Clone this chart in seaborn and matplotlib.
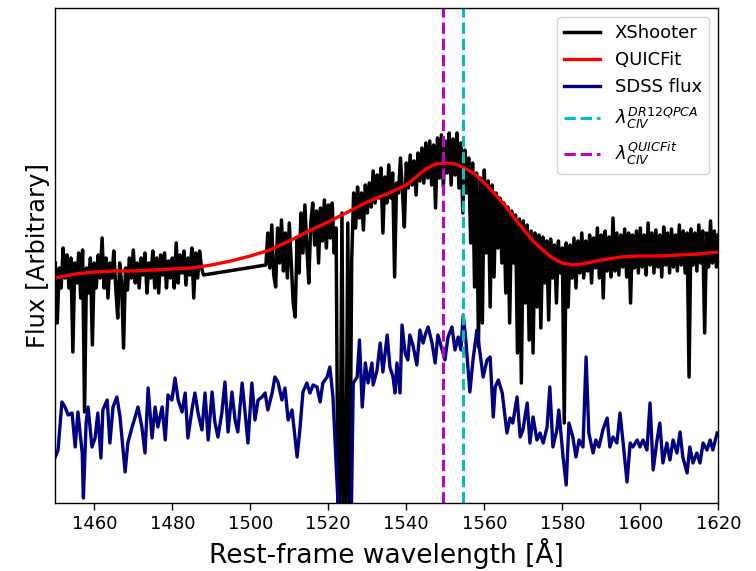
import numpy as np
import pandas as pd
import matplotlib
matplotlib.use("Agg")
import matplotlib.pyplot as plt
import seaborn as sns

# ---------------- data (arbitrary flux units) ----------------
# XShooter spectrum, two segments on a 0.5 A pixel grid
xs_seg1_start = 1450.0
xs_seg1_flux = [
    240, 180, 235, 215, 255, 225, 248, 215, 245, 151,
    240, 220, 250, 205, 253, 91, 235, 210, 245, 158,
    240, 215, 248, 225, 265, 215, 245, 205, 240, 225,
    252, 215, 185, 240, 220, 155, 235, 213, 245, 225,
    253, 220, 240, 215, 245, 228, 250, 210, 240, 225,
    252, 215, 245, 210, 248, 228, 250, 215, 242, 225,
    245, 215, 260, 220, 248, 230, 252, 218, 245, 228,
    255, 205, 250, 225, 252, 235, 228,
]
xs_seg2_start = 1504.0
xs_seg2_flux = [
    238, 270, 235, 278, 228, 216, 275, 240, 283, 232,
    270, 225, 280, 240, 200, 186, 265, 230, 290, 250,
    298, 255, 220, 280, 300, 258, 292, 240, 295, 262,
    303, 255, 298, 265, 300, 250, 275, -20, -20, 290,
    -20, -20, 280, -20, 243, 310, 275, 316, 285, 310,
    273, 318, 290, 320, 296, 332, 300, 328, 305, 335,
    270, 326, 300, 338, 305, 330, 226, 320, 310, 345,
    312, 276, 340, 315, 348, 318, 342, 308, 350, 322,
    355, 320, 360, 325, 362, 318, 358, 295, 365, 325,
    368, 316, 362, 330, 370, 318, 364, 328, 370, 315,
    360, 290, 353, 310, 345, 260, 340, 216, 330, 156,
    325, 180, 333, 250, 322, 196, 318, 226, 310, 255,
    305, 240, 300, 210, 296, 180, 292, 240, 288, 150,
    284, 120, 282, 200, 278, 163, 272, 150, 270, 196,
    268, 175, 266, 220, 262, 183, 264, 225, 258, 200,
    262, 230, 255, 80, 260, 196, 258, 225, 265, 215,
    262, 230, 270, 225, 262, 232, 268, 220, 265, 235,
    275, 225, 268, 205, 272, 232, 266, 226, 285, 232,
    270, 228, 268, 236, 274, 226, 270, 200, 268, 235,
    272, 230, 275, 236, 268, 228, 280, 238, 270, 230,
    273, 236, 268, 226, 276, 238, 270, 230, 274, 236,
    268, 232, 278, 238, 272, 230, 270, 126, 274, 238,
    270, 232, 278, 240, 272, 170, 270, 236, 282, 240,
    272, 236, 268,
]
xs_step = 0.5

# QUICFit model
fit_wave = [1450, 1455, 1460, 1465, 1470, 1475, 1480, 1485, 1490, 1495, 1500,
            1505, 1510, 1515, 1520, 1525, 1530, 1535, 1540, 1542.5, 1545,
            1547.5, 1550, 1552.5, 1555, 1557.5, 1560, 1562.5, 1565, 1567.5,
            1570, 1572.5, 1575, 1577.5, 1580, 1582.5, 1585, 1590, 1595, 1600,
            1605, 1610, 1615, 1620]
fit_flux = [225, 229, 231, 232, 232, 233, 234, 235, 238, 242, 247,
            253, 262, 272, 281, 291, 301, 309, 318, 326, 334,
            339, 340, 339, 335, 329, 320, 310, 299, 286,
            274, 262, 253, 245, 240, 238, 239, 243, 246, 247,
            247, 248, 249, 251]

# SDSS spectrum
sdss_wave = [
    1450.0, 1450.7, 1451.7, 1452.5, 1453.3, 1454.3, 1455.1, 1455.8, 1456.9, 1457.2,
    1457.9, 1458.4, 1459.4, 1460.2, 1460.9, 1461.7, 1462.2, 1463.3, 1464.0, 1464.8,
    1465.8, 1466.6, 1467.9, 1468.6, 1469.7, 1470.4, 1471.2, 1472.2, 1473.0, 1473.8,
    1474.8, 1475.6, 1476.3, 1477.4, 1478.2, 1478.9, 1479.9, 1480.7, 1481.5, 1482.5,
    1483.3, 1484.0, 1485.1, 1485.8, 1486.6, 1487.6, 1488.4, 1489.2, 1490.2, 1490.9,
    1491.7, 1492.7, 1493.5, 1494.3, 1495.3, 1496.1, 1496.8, 1497.9, 1498.6, 1499.4,
    1500.4, 1501.2, 1502.0, 1503.0, 1503.8, 1504.5, 1505.6, 1506.3, 1507.1, 1508.1,
    1508.9, 1509.7, 1510.7, 1512.0, 1512.7, 1513.5, 1514.5, 1515.3, 1516.1, 1517.1,
    1517.9, 1518.6, 1519.7, 1520.4, 1521.2, 1522.2, 1523.0, 1524.0, 1525.0, 1525.8,
    1526.4, 1527.4, 1528.0, 1528.7, 1529.5, 1530.2, 1531.2, 1531.5, 1532.5, 1533.3,
    1534.0, 1535.1, 1535.8, 1536.6, 1537.1, 1537.6, 1538.4, 1538.9, 1539.7, 1540.4,
    1540.9, 1541.7, 1542.7, 1543.5, 1544.3, 1545.0, 1545.6, 1546.6, 1547.4, 1548.1,
    1549.2, 1549.9, 1550.7, 1551.7, 1552.5, 1553.3, 1554.0, 1554.6, 1555.3, 1556.3,
    1557.1, 1558.1, 1558.9, 1559.7, 1560.7, 1561.5, 1562.3, 1562.8, 1563.6, 1564.6,
    1565.8, 1566.6, 1567.3, 1568.4, 1569.2, 1569.9, 1571.0, 1571.7, 1572.5, 1573.5,
    1574.3, 1575.1, 1576.1, 1576.8, 1577.6, 1578.6, 1579.1, 1580.2, 1581.0, 1581.7,
    1582.7, 1583.5, 1584.3, 1585.3, 1586.1, 1586.8, 1587.9, 1588.6, 1589.4, 1590.4,
    1591.5, 1592.2, 1593.0, 1594.0, 1594.8, 1595.6, 1596.6, 1597.4, 1598.1, 1599.2,
    1599.9, 1600.7, 1601.7, 1602.5, 1603.3, 1604.3, 1605.0, 1605.8, 1606.8, 1607.6,
    1608.4, 1609.4, 1610.2, 1610.9, 1612.0, 1612.7, 1613.5, 1614.5, 1615.3, 1616.1,
    1617.1, 1617.9, 1618.6, 1619.7,
]
sdss_flux = [
    46, 53, 101, 96, 88, 90, 56, 91, 50, 5,
    80, 96, 56, 65, 90, 45, 93, 103, 60, 96,
    106, 86, 31, 60, 76, 85, 96, 76, 50, 115,
    65, 96, 76, 96, 63, 108, 103, 125, 103, 91,
    110, 65, 95, 110, 90, 73, 110, 63, 111, 81,
    66, 90, 121, 71, 111, 83, 71, 120, 93, 60,
    120, 83, 103, 106, 110, 93, 110, 126, 121, 103,
    115, 83, 93, 46, 73, 111, 120, 110, 118, 116,
    101, 120, 126, 136, 106, 23, -40, -40, -40, -40,
    120, 126, 163, 96, 140, 120, 140, 118, 133, 160,
    131, 168, 136, 126, 110, 140, 110, 178, 150, 143,
    168, 158, 138, 173, 160, 170, 176, 160, 140, 168,
    153, 143, 166, 176, 153, 166, 153, 188, 161, 111,
    143, 173, 150, 126, 143, 146, 86, 116, 123, 110,
    70, 85, 80, 106, 66, 73, 100, 60, 86, 63,
    70, 60, 76, 116, 56, 73, 93, 46, 18, 80,
    66, 46, 63, 56, 146, 70, 50, 63, 56, 73,
    85, 56, 66, 60, 90, 60, 21, 60, 56, 63,
    56, 63, 53, 100, 33, 63, 80, 40, 60, 43,
    63, 50, 71, 46, 30, 56, 40, 50, 40, 60,
    53, 63, 53, 70,
]

# line centres
civ_dr12 = 1554.6
civ_quicfit = 1549.5

x_ticks = [1460, 1480, 1500, 1520, 1540, 1560, 1580, 1600, 1620]

# ---------------- build frames ----------------
xs_wave = list(xs_seg1_start + xs_step * np.arange(len(xs_seg1_flux))) + \
          list(xs_seg2_start + xs_step * np.arange(len(xs_seg2_flux)))
xs_df = pd.DataFrame({"wave": xs_wave, "flux": xs_seg1_flux + xs_seg2_flux})
fit_df = pd.DataFrame({"wave": fit_wave, "flux": fit_flux})
sdss_df = pd.DataFrame({"wave": sdss_wave, "flux": sdss_flux})

# ---------------- plot ----------------
plt.rcParams["font.family"] = ["DejaVu Sans"]
plt.rcParams["mathtext.fontset"] = "dejavusans"

fig = plt.figure(figsize=(7.56, 5.71), dpi=100)
ax = fig.add_axes([55.3 / 756, (571 - 503) / 571, (718.3 - 55.3) / 756, (503 - 8) / 571])

sns.lineplot(data=xs_df, x="wave", y="flux", ax=ax, color="black", lw=2.5,
             estimator=None, sort=False, label="XShooter")
sns.lineplot(data=fit_df, x="wave", y="flux", ax=ax, color="red", lw=2.4,
             estimator=None, sort=False, label="QUICFit")
sns.lineplot(data=sdss_df, x="wave", y="flux", ax=ax, color="navy", lw=2.4,
             estimator=None, sort=False, label="SDSS flux")
ax.axvline(civ_dr12, color="c", ls="--", lw=2.2, label=r"$\lambda_{CIV}^{DR12QPCA}$")
ax.axvline(civ_quicfit, color="m", ls="--", lw=2.2, label=r"$\lambda_{CIV}^{QUICFit}$")

ax.set_xlim(1450, 1620)
ax.set_ylim(0, 495)
ax.set_xticks(x_ticks)
ax.set_yticks([])
ax.tick_params(axis="x", labelsize=13, length=5, width=1, direction="out")
ax.set_xlabel("Rest-frame wavelength [Å]", fontsize=19)
ax.set_ylabel("Flux [Arbitrary]", fontsize=17.5)
for s in ax.spines.values():
    s.set_color("black")
    s.set_linewidth(1.0)

ax.legend(loc="upper right", fontsize=13, frameon=True)

fig.savefig("out.png", dpi=100)
